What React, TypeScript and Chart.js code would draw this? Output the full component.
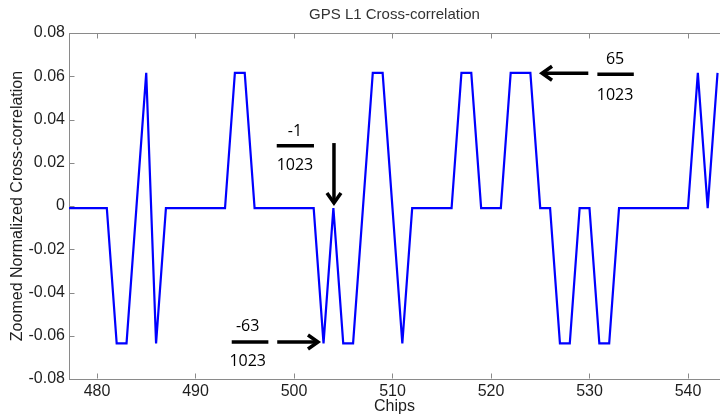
import React, { useEffect, useRef } from 'react';
import { Chart, registerables } from 'chart.js';

Chart.register(...registerables);

// ---- data ----
const chips = [
  477, 478, 479, 480, 481, 482, 483, 484, 485, 486, 487, 488, 489, 490, 491, 492, 493,
  494, 495, 496, 497, 498, 499, 500, 501, 502, 503, 504, 505, 506, 507, 508, 509, 510,
  511, 512, 513, 514, 515, 516, 517, 518, 519, 520, 521, 522, 523, 524, 525, 526, 527,
  528, 529, 530, 531, 532, 533, 534, 535, 536, 537, 538, 539, 540, 541, 542, 543,
];
// cross-correlation numerators (value = n / 1023)
const corrNumerators = [
  -1, -1, -1, -1, -1, -65, -65, -1, 63, -65, -1, -1, -1, -1, -1, -1, -1,
  63, 63, -1, -1, -1, -1, -1, -1, -1, -65, -1, -65, -65, -1, 63, 63, -1,
  -65, -1, -1, -1, -1, -1, 63, 63, -1, -1, -1, 63, 63, 63, -1, -1, -65,
  -65, -1, -1, -65, -65, -1, -1, -1, -1, -1, -1, -1, -1, 63, -1, 63,
];
const codeLength = 1023;

const xTicks = [480, 490, 500, 510, 520, 530, 540];
const yTicks = [-0.08, -0.06, -0.04, -0.02, 0, 0.02, 0.04, 0.06, 0.08];
const xRange = [477.16, 543.25];
const yRange = [-0.08, 0.08];

const chartTitle = 'GPS L1 Cross-correlation';
const xTitle = 'Chips';
const yTitle = 'Zoomed Normalized Cross-correlation';

// annotation labels (in chip / value coordinates)
const annotationNums = ['-1', '-63', '65'];
const annotationDen = '1023';
const annotationTextX = [500.1, 495.3, 532.6];
const annotationNumY = [0.0344, -0.0558, 0.0678];
const annotationBarY = [0.0279, -0.0629, 0.0609];
const annotationDenY = [0.0186, -0.0717, 0.0512];
const annotationBarX = [[498.25, 502.03], [493.68, 497.4], [530.8, 534.5]];
const annotationArrows = [
  [[504.06, 0.0291], [504.06, 0.0005]],
  [[498.3, -0.0629], [502.64, -0.0629]],
  [[529.88, 0.0614], [524.98, 0.0614]],
];

const axisColor = '#8a8a8a';
const textColor = '#1e1e1e';

const decorPlugin = {
  id: 'decor',
  afterDraw(chart: any) {
    const { ctx, chartArea: ca, scales } = chart;
    const x = scales.x;
    const y = scales.y;
    ctx.save();
    // title
    ctx.fillStyle = '#333';
    ctx.font = '15px "Liberation Sans", Arial, sans-serif';
    ctx.textAlign = 'center';
    ctx.textBaseline = 'middle';
    ctx.fillText(chartTitle, (ca.left + ca.right) / 2, 15);

    // top border and inward ticks
    ctx.strokeStyle = axisColor;
    ctx.lineWidth = 1;
    const top = Math.round(ca.top) + 0.5;
    const bottom = Math.round(ca.bottom) - 0.5;
    const left = Math.round(ca.left) + 0.5;
    ctx.beginPath();
    ctx.moveTo(ca.left, top);
    ctx.lineTo(ca.right, top);
    xTicks.forEach((v) => {
      const px = Math.round(x.getPixelForValue(v)) + 0.5;
      ctx.moveTo(px, bottom);
      ctx.lineTo(px, bottom - 5);
      ctx.moveTo(px, top);
      ctx.lineTo(px, top + 5);
    });
    yTicks.forEach((v) => {
      const py = Math.round(y.getPixelForValue(v)) + 0.5;
      ctx.moveTo(left, py);
      ctx.lineTo(left + 5, py);
    });
    ctx.stroke();

    // annotations
    ctx.fillStyle = '#000';
    ctx.strokeStyle = '#000';
    ctx.font = '16px "Open Sans", sans-serif';
    ctx.textAlign = 'center';
    ctx.textBaseline = 'middle';
    annotationNums.forEach((num, i) => {
      const tx = x.getPixelForValue(annotationTextX[i]);
      ctx.fillText(num, tx, y.getPixelForValue(annotationNumY[i]));
      ctx.fillText(annotationDen, tx, y.getPixelForValue(annotationDenY[i]));
      ctx.lineWidth = 3.5;
      ctx.lineCap = 'butt';
      ctx.beginPath();
      const by = y.getPixelForValue(annotationBarY[i]);
      ctx.moveTo(x.getPixelForValue(annotationBarX[i][0]), by);
      ctx.lineTo(x.getPixelForValue(annotationBarX[i][1]), by);
      ctx.stroke();
      // arrow
      const [[ax0, ay0], [ax1, ay1]] = annotationArrows[i];
      const p0x = x.getPixelForValue(ax0);
      const p0y = y.getPixelForValue(ay0);
      const p1x = x.getPixelForValue(ax1);
      const p1y = y.getPixelForValue(ay1);
      const len = Math.hypot(p1x - p0x, p1y - p0y);
      const dx = (p1x - p0x) / len;
      const dy = (p1y - p0y) / len;
      const nx = -dy;
      const ny = dx;
      ctx.lineWidth = 3.5;
      ctx.beginPath();
      ctx.moveTo(p0x, p0y);
      ctx.lineTo(p1x - dx * 2, p1y - dy * 2);
      ctx.stroke();
      ctx.lineJoin = 'miter';
      ctx.beginPath();
      ctx.moveTo(p1x - dx * 12 + nx * 7, p1y - dy * 12 + ny * 7);
      ctx.lineTo(p1x - dx * 2, p1y - dy * 2);
      ctx.lineTo(p1x - dx * 12 - nx * 7, p1y - dy * 12 - ny * 7);
      ctx.stroke();
    });
    ctx.restore();
  },
};

export default function App() {
  const canvasRef = useRef<HTMLCanvasElement | null>(null);

  useEffect(() => {
    document.body.style.margin = '0';
    const canvas = canvasRef.current;
    if (!canvas) return;
    const points = chips.map((c, i) => ({ x: c, y: corrNumerators[i] / codeLength }));
    const tickFont = { family: '"Liberation Sans", Arial, sans-serif', size: 16 };
    const chart = new Chart(canvas, {
      type: 'line',
      data: {
        datasets: [
          {
            data: points,
            borderColor: '#0000ff',
            backgroundColor: '#0000ff',
            borderWidth: 2.2,
            pointRadius: 0,
            tension: 0,
            fill: false,
          },
        ],
      },
      options: {
        animation: false,
        responsive: false,
        devicePixelRatio: 1,
        layout: { padding: { top: 33, left: 0, right: 0, bottom: 0 } },
        plugins: {
          legend: { display: false },
          tooltip: { enabled: false },
          title: { display: false },
        },
        scales: {
          x: {
            type: 'linear',
            min: xRange[0],
            max: xRange[1],
            afterBuildTicks: (scale: any) => {
              scale.ticks = xTicks.map((v) => ({ value: v }));
            },
            afterFit: (scale: any) => {
              scale.height = 38;
            },
            grid: { display: false, drawTicks: false },
            border: { display: true, color: axisColor, width: 1 },
            ticks: {
              font: tickFont,
              color: textColor,
              padding: 3,
              maxRotation: 0,
              autoSkip: false,
              callback: (v: any) => String(v),
            },
            title: {
              display: true,
              text: xTitle,
              font: tickFont,
              color: textColor,
              padding: { top: 0, bottom: 1 },
            },
          },
          y: {
            type: 'linear',
            min: yRange[0],
            max: yRange[1],
            afterBuildTicks: (scale: any) => {
              scale.ticks = yTicks.map((v) => ({ value: v }));
            },
            afterFit: (scale: any) => {
              scale.width = 69;
            },
            grid: { display: false, drawTicks: false },
            border: { display: true, color: axisColor, width: 1 },
            ticks: {
              font: tickFont,
              color: textColor,
              padding: 4,
              autoSkip: false,
              callback: (v: any) => (Math.abs(v) < 1e-9 ? '0' : Number(v).toFixed(2)),
            },
            title: {
              display: true,
              text: yTitle,
              font: tickFont,
              color: textColor,
              padding: { top: 8, bottom: 0 },
            },
          },
        },
      },
      plugins: [decorPlugin],
    } as any);
    return () => chart.destroy();
  }, []);

  return (
    <div style={{ position: 'absolute', left: 0, top: 0, width: 720, height: 417 }}>
      <canvas ref={canvasRef} width={720} height={417} />
    </div>
  );
}
